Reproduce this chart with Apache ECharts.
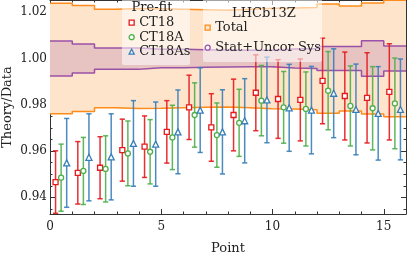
<!DOCTYPE html>
<html><head><meta charset="utf-8">
<script src="https://cdn.jsdelivr.net/npm/echarts@6/dist/echarts.min.js"></script>
<style>html,body{margin:0;padding:0;background:#fff}#c{width:407px;height:260px}</style>
</head><body><div id="c"></div>
<script>
// ---- data ----
const ct18      = [0.9466,0.9506,0.9528,0.9604,0.9619,0.9683,0.9789,0.9702,0.9756,0.9852,0.9825,0.9821,0.9903,0.9838,0.9830,0.9856];
const ct18Err   = [0.0135,0.0135,0.0134,0.0134,0.0133,0.0135,0.0139,0.0146,0.0155,0.0164,0.0170,0.0177,0.0185,0.0190,0.0195,0.0208];
const ct18A     = [0.9485,0.9514,0.9523,0.9590,0.9597,0.9659,0.9756,0.9669,0.9722,0.9818,0.9789,0.9782,0.9861,0.9795,0.9785,0.9806];
const ct18AErr  = [0.0145,0.0145,0.0143,0.0140,0.0139,0.0139,0.0139,0.0139,0.0145,0.0152,0.0155,0.0160,0.0169,0.0173,0.0180,0.0196];
const ct18As    = [0.9549,0.9573,0.9575,0.9633,0.9630,0.9683,0.9777,0.9683,0.9731,0.9821,0.9787,0.9777,0.9850,0.9780,0.9763,0.9780];
const ct18AsErr = [0.0192,0.0188,0.0186,0.0185,0.0182,0.0181,0.0183,0.0182,0.0182,0.0185,0.0188,0.0189,0.0192,0.0196,0.0202,0.0218];
const bandCenter = 1.0;
const totalHalf = [0.0239,0.0229,0.0213,0.0216,0.0215,0.0213,0.0211,0.0209,0.0213,0.0217,0.0218,0.0221,0.0236,0.0227,0.0240,0.0252];
const uncorHalf = [0.0076,0.0063,0.0046,0.0046,0.0040,0.0040,0.0038,0.0037,0.0036,0.0036,0.0041,0.0043,0.0052,0.0052,0.0077,0.0054];
const xTicks = [0,5,10,15];
const xMinorTicks = [1,2,3,4,6,7,8,9,11,12,13,14];
const yTicks = [0.94,0.96,0.98,1.00,1.02];
const yMinorTicks = [0.935,0.945,0.95,0.955,0.965,0.97,0.975,0.985,0.99,0.995,1.005,1.01,1.015,1.025];

// ---- styling ----
const FONT = 'DejaVu Serif';
const RED = '#e41a1c', GREEN = '#4daf4a', BLUE = '#377eb8';
const ORANGE = '#ff8c1a', ORANGE_FILL = '#fee4ca';
const PURPLE = '#9a52a8', PURPLE_FILL = 'rgba(152,78,163,0.22)';
const X_MIN = 0, X_MAX = 16, Y_MIN = 0.9328, Y_MAX = 1.0253;
const spine = {color:'#333', width:1};

function bandRender(half){
  return function(params, api){
    const pts = [];
    for (let i = 0; i < half.length; i++) {
      pts.push(api.coord([i, bandCenter + half[i]]));
      pts.push(api.coord([i + 1, bandCenter + half[i]]));
    }
    for (let i = half.length - 1; i >= 0; i--) {
      pts.push(api.coord([i + 1, bandCenter - half[i]]));
      pts.push(api.coord([i, bandCenter - half[i]]));
    }
    return {type:'polygon', shape:{points:pts}, style:{fill:api.visual('color')}};
  };
}
function stepData(half, sign){
  const d = half.map((h, i) => [i, bandCenter + sign * h]);
  d.push([half.length, bandCenter + sign * half[half.length - 1]]);
  return d;
}
function stepLine(half, sign, color){
  return {type:'line', step:'end', data:stepData(half, sign), symbol:'none', silent:true, z:2,
    lineStyle:{color:color, width:1.5}, animation:false};
}
function errSeries(vals, errs, offset, color){
  return {type:'custom', z:3, silent:true, animation:false,
    data: vals.map((v, i) => [i + offset, v, errs[i]]),
    encode:{x:0, y:1},
    renderItem:function(params, api){
      const x = api.value(0), y = api.value(1), e = api.value(2);
      const t = api.coord([x, y + e]), b = api.coord([x, y - e]);
      const cw = 2.6;
      const st = {stroke:color, lineWidth:1.5, opacity:0.9};
      return {type:'group', children:[
        {type:'line', shape:{x1:t[0], y1:t[1], x2:b[0], y2:b[1]}, style:st},
        {type:'line', shape:{x1:t[0]-cw, y1:t[1], x2:t[0]+cw, y2:t[1]}, style:st},
        {type:'line', shape:{x1:b[0]-cw, y1:b[1], x2:b[0]+cw, y2:b[1]}, style:st}
      ]};
    }};
}
function scatterSeries(name, vals, offset, symbol, size, color){
  return {type:'scatter', name:name, z:4, symbol:symbol, symbolSize:size, animation:false,
    data: vals.map((v, i) => [i + offset, v]),
    itemStyle:{color:'#ffffff', borderColor:color, borderWidth:1.3, opacity:1}};
}
function xAx(grid, pos, major, labels){
  return {gridIndex:grid, type:'value', position:pos, min:X_MIN, max:X_MAX,
    axisLine:{show:major, onZero:false, lineStyle:spine},
    axisTick:{show:true, inside:true, length:major ? 5 : 2.5, customValues: major ? xTicks : xMinorTicks, lineStyle:spine},
    axisLabel:{show:labels, customValues:xTicks, margin:7, fontFamily:FONT, fontSize:12, color:'#222'},
    splitLine:{show:false},
    name: labels ? 'Point' : '', nameLocation:'middle', nameGap:28, nameMoveOverlap:false,
    nameTextStyle:{fontFamily:FONT, fontSize:13, color:'#222'}};
}
function yAx(grid, pos, major, labels){
  return {gridIndex:grid, type:'value', position:pos, min:Y_MIN, max:Y_MAX,
    axisLine:{show:major, onZero:false, lineStyle:spine},
    axisTick:{show:true, inside:true, length:major ? 5 : 2.5, customValues: major ? yTicks : yMinorTicks, lineStyle:spine},
    axisLabel:{show:labels, customValues:yTicks, margin:3, fontFamily:FONT, fontSize:12, color:'#222',
      formatter:function(v){ return v.toFixed(2); }},
    splitLine:{show:false},
    name: labels ? 'Theory/Data' : '', nameLocation:'middle', nameGap:36, nameMoveOverlap:false,
    nameTextStyle:{fontFamily:FONT, fontSize:13, color:'#222'}};
}

const chart = echarts.init(document.getElementById('c'), null, {renderer:'canvas'});
const legendText = {fontFamily:FONT, fontSize:13, color:'#222', lineHeight:14.5};
chart.setOption({
  animation:false,
  backgroundColor:'#ffffff',
  grid:[
    {left:50, right:1, top:0, bottom:46, outerBoundsMode:'none', containLabel:false},
    {left:50, right:1, top:0, bottom:46, outerBoundsMode:'none', containLabel:false}
  ],
  xAxis:[xAx(0,'bottom',true,true), xAx(0,'top',true,false), xAx(1,'bottom',false,false), xAx(1,'top',false,false)],
  yAxis:[yAx(0,'left',true,true), yAx(0,'right',true,false), yAx(1,'left',false,false), yAx(1,'right',false,false)],
  legend:[
    {orient:'vertical', left:128.5, top:15.45, padding:0, itemWidth:5, itemHeight:5, itemGap:0,
     selectedMode:false, z:20, textStyle:legendText,
     data:[
       {name:'CT18', icon:'rect', itemStyle:{color:'#fff', borderColor:RED, borderWidth:1.3}},
       {name:'CT18A', icon:'circle', itemStyle:{color:'#fff', borderColor:GREEN, borderWidth:1.3}},
       {name:'CT18As', icon:'triangle', itemStyle:{color:'#fff', borderColor:BLUE, borderWidth:1.3}}
     ]},
    {orient:'vertical', left:204.5, top:20.45, padding:0, itemWidth:5, itemHeight:5, itemGap:5.5,
     selectedMode:false, z:20, textStyle:legendText,
     data:[
       {name:'Total', icon:'rect', itemStyle:{color:ORANGE_FILL, borderColor:ORANGE, borderWidth:1.3}},
       {name:'Stat+Uncor Sys', icon:'circle', itemStyle:{color:'#fff', borderColor:PURPLE, borderWidth:1.3}}
     ]}
  ],
  graphic:[
    {type:'rect', z:10, silent:true, shape:{x:122, y:-2, width:68, height:67, r:2}, style:{fill:'rgba(255,255,255,0.55)'}},
    {type:'rect', z:10, silent:true, shape:{x:203, y:-2, width:119, height:64, r:2}, style:{fill:'rgba(255,255,255,0.55)'}},
    {type:'text', z:21, silent:true, style:{text:'Pre-fit', x:152, y:7.5, align:'center', verticalAlign:'middle', font:'13px "DejaVu Serif"', fill:'#222'}},
    {type:'text', z:21, silent:true, style:{text:'LHCb13Z', x:264, y:13.5, align:'center', verticalAlign:'middle', font:'13px "DejaVu Serif"', fill:'#222'}}
  ],
  series:[
    {type:'custom', name:'Total', z:1, silent:true, data:[[0, bandCenter]], encode:{x:0, y:1},
     itemStyle:{color:ORANGE_FILL}, renderItem:bandRender(totalHalf)},
    {type:'custom', name:'Stat+Uncor Sys', z:1, silent:true, data:[[0, bandCenter]], encode:{x:0, y:1},
     itemStyle:{color:PURPLE_FILL}, renderItem:bandRender(uncorHalf)},
    stepLine(totalHalf, 1, ORANGE), stepLine(totalHalf, -1, ORANGE),
    stepLine(uncorHalf, 1, PURPLE), stepLine(uncorHalf, -1, PURPLE),
    errSeries(ct18, ct18Err, 0.25, RED),
    errSeries(ct18A, ct18AErr, 0.5, GREEN),
    errSeries(ct18As, ct18AsErr, 0.75, BLUE),
    scatterSeries('CT18', ct18, 0.25, 'rect', 5, RED),
    scatterSeries('CT18A', ct18A, 0.5, 'circle', 5, GREEN),
    scatterSeries('CT18As', ct18As, 0.75, 'triangle', 6, BLUE)
  ]
});
</script></body></html>
